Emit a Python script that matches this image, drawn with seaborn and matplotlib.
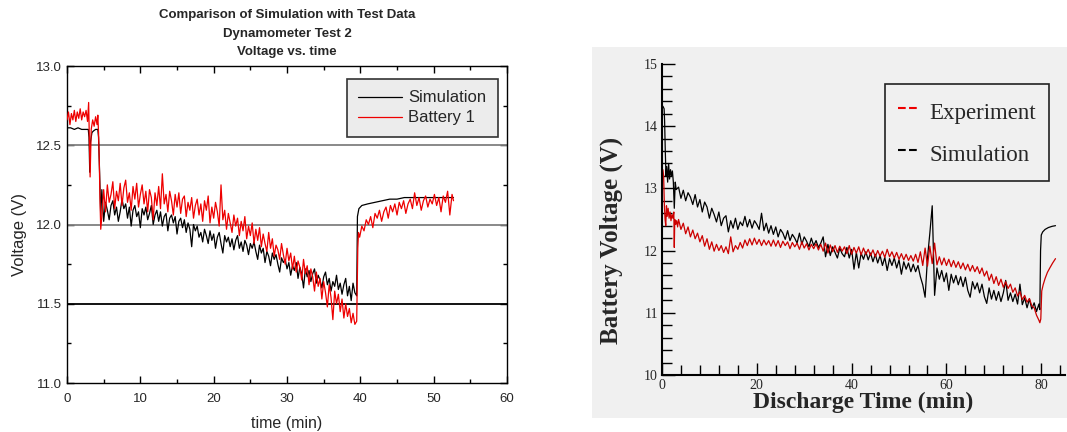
import numpy as np
import pandas as pd
import matplotlib
matplotlib.use("Agg")
import matplotlib.pyplot as plt
import seaborn as sns
from matplotlib.lines import Line2D
from matplotlib.patches import Rectangle
from matplotlib.ticker import MultipleLocator, FormatStrFormatter

# ---- datos panel izquierdo (Dynamometer Test 2) ----
sim_izq_t = [0, 0.5, 1, 1.5, 2, 2.5, 2.9, 3.0, 3.1, 3.2, 3.4, 3.6, 3.9, 4.2, 4.3, 4.45, 4.6,
             4.75, 5.0, 5.25, 5.5, 5.75, 6.0, 6.25, 6.5, 6.75, 7.0, 7.25, 7.5, 7.75, 8.0, 8.25,
             8.5, 8.75, 9.0, 9.25, 9.5, 9.75, 10.0, 10.25, 10.5, 10.75, 11.0, 11.25, 11.5,
             11.75, 12.0, 12.25, 12.5, 12.75, 13.0, 13.25, 13.5, 13.75, 14.0, 14.25, 14.5,
             14.75, 15.0, 15.25, 15.5, 15.75, 16.0, 16.25, 16.5, 16.75, 17.0, 17.25, 17.5,
             17.75, 18.0, 18.25, 18.5, 18.75, 19.0, 19.25, 19.5, 19.75, 20.0, 20.25, 20.5,
             20.75, 21.0, 21.25, 21.5, 21.75, 22.0, 22.25, 22.5, 22.75, 23.0, 23.25, 23.5,
             23.75, 24.0, 24.25, 24.5, 24.75, 25.0, 25.25, 25.5, 25.75, 26.0, 26.25, 26.5,
             26.75, 27.0, 27.25, 27.5, 27.75, 28.0, 28.25, 28.5, 28.75, 29.0, 29.25, 29.5,
             29.75, 30.0, 30.25, 30.5, 30.75, 31.0, 31.25, 31.5, 31.75, 32.0, 32.25, 32.5,
             32.75, 33.0, 33.25, 33.5, 33.75, 34.0, 34.25, 34.5, 34.75, 35.0, 35.25, 35.5,
             35.75, 36.0, 36.25, 36.5, 36.75, 37.0, 37.25, 37.5, 37.75, 38.0, 38.25, 38.5,
             38.75, 39.0, 39.25, 39.5, 39.6, 39.8, 40.2, 41, 42, 43, 44, 45, 46, 47, 48, 50,
             52.7]
sim_izq_v = [12.61, 12.61, 12.60, 12.61, 12.60, 12.60, 12.60, 12.55, 12.33, 12.52, 12.58, 12.59,
             12.60, 12.60, 12.55, 12.32, 12.05,
             12.22, 12.02, 12.14, 12.09,
             12.03, 12.12, 12.15, 12.06, 12.11, 12.02, 12.08, 12.16, 12.10, 12.13, 12.04, 12.11,
             11.99, 12.09, 12.12, 12.05, 12.08, 11.98, 12.10, 12.06, 12.11, 12.03, 12.07, 12.12,
             12.00, 12.06, 12.09, 12.02, 12.08, 11.99, 12.05, 12.07, 11.96, 12.04, 12.06, 12.01,
             12.05, 11.94, 12.02, 12.04, 11.98, 12.03, 11.95, 12.01, 11.97, 11.86, 12.00, 11.96,
             11.99, 11.92, 11.95, 11.89, 11.97, 11.93, 11.88, 11.96, 11.90, 11.94, 11.85, 11.92,
             11.95, 11.88, 11.82, 11.93, 11.89, 11.92, 11.86, 11.91, 11.84, 11.90, 11.93, 11.85,
             11.89, 11.83, 11.90, 11.87, 11.81, 11.88, 11.85, 11.89, 11.83, 11.78, 11.87, 11.82,
             11.85, 11.76, 11.83, 11.80, 11.74, 11.82, 11.78, 11.81, 11.75, 11.70, 11.79, 11.76,
             11.78, 11.72, 11.76, 11.68, 11.74, 11.71, 11.76, 11.66, 11.73, 11.69, 11.60, 11.72,
             11.67, 11.71, 11.64, 11.69, 11.72, 11.63, 11.68, 11.65, 11.60, 11.67, 11.70, 11.62,
             11.66, 11.58, 11.64, 11.61, 11.68, 11.59, 11.63, 11.56, 11.62, 11.66, 11.55, 11.61,
             11.52, 11.63, 11.57,
             11.55, 12.05, 12.10, 12.12, 12.13, 12.14, 12.15, 12.16, 12.16, 12.17, 12.17, 12.17,
             12.17, 12.17]

bat_t = [0, 0.2, 0.4, 0.6, 0.8, 1.0, 1.2, 1.4, 1.6, 1.8, 2.0, 2.2, 2.4, 2.6, 2.8, 2.95, 3.05,
         3.15, 3.3, 3.5, 3.7, 3.9, 4.1, 4.2, 4.3, 4.4, 4.5, 4.6, 4.75,
         5.0, 5.25, 5.5, 5.75, 6.0, 6.25, 6.5, 6.75, 7.0, 7.25, 7.5, 7.75, 8.0, 8.25, 8.5,
         8.75, 9.0, 9.25, 9.5, 9.75, 10.0, 10.25, 10.5, 10.75, 11.0, 11.25, 11.5, 11.75,
         12.0, 12.25, 12.5, 12.75, 13.0, 13.25, 13.5, 13.75, 14.0, 14.25, 14.5, 14.75, 15.0,
         15.25, 15.5, 15.75, 16.0, 16.25, 16.5, 16.75, 17.0, 17.25, 17.5, 17.75, 18.0, 18.25,
         18.5, 18.75, 19.0, 19.25, 19.5, 19.75, 20.0, 20.25, 20.5, 20.75, 21.0, 21.25, 21.5,
         21.75, 22.0, 22.25, 22.5, 22.75, 23.0, 23.25, 23.5, 23.75, 24.0, 24.25, 24.5, 24.75,
         25.0, 25.25, 25.5, 25.75, 26.0, 26.25, 26.5, 26.75, 27.0, 27.25, 27.5, 27.75, 28.0,
         28.25, 28.5, 28.75, 29.0, 29.25, 29.5, 29.75, 30.0, 30.25, 30.5, 30.75, 31.0, 31.25,
         31.5, 31.75, 32.0, 32.25, 32.5, 32.75, 33.0, 33.25, 33.5, 33.75, 34.0, 34.25, 34.5,
         34.75, 35.0, 35.25, 35.5, 35.75, 36.0, 36.25, 36.5, 36.75, 37.0, 37.25, 37.5, 37.75,
         38.0, 38.25, 38.5, 38.75, 39.0, 39.25, 39.5, 39.65, 39.75,
         39.9, 40.2, 40.5, 40.8, 41.1, 41.4, 41.7, 42.0, 42.3, 42.6, 42.9, 43.2, 43.5, 43.8,
         44.1, 44.4, 44.7, 45.0, 45.3, 45.6, 45.9, 46.2, 46.5, 46.8, 47.1, 47.4, 47.7, 48.0,
         48.3, 48.6, 48.9, 49.2, 49.5, 49.8, 50.1, 50.4, 50.7, 51.0, 51.3, 51.6, 51.9, 52.2,
         52.5, 52.7]
bat_v = [12.66, 12.71, 12.63, 12.70, 12.66, 12.72, 12.65, 12.71, 12.67, 12.73, 12.66, 12.71,
         12.68, 12.72, 12.65, 12.77, 12.55, 12.30, 12.60, 12.66, 12.62, 12.68, 12.63, 12.69,
         12.58, 12.40, 12.15, 11.97, 12.05,
         12.22, 12.08, 12.25, 12.14, 12.19, 12.27, 12.10, 12.21, 12.15, 12.26, 12.12, 12.23,
         12.28, 12.14, 12.20, 12.09, 12.24, 12.16, 12.26, 12.11, 12.19, 12.25, 12.13, 12.21,
         12.08, 12.22, 12.17, 12.03, 12.20, 12.12, 12.24, 12.10, 12.32, 12.13, 12.19, 12.08,
         12.21, 12.15, 12.06, 12.19, 12.11, 12.20, 12.07, 12.16, 12.18, 12.05, 12.14, 12.09,
         12.17, 12.04, 12.12, 12.16, 12.06, 12.13, 12.02, 12.15, 12.09, 12.18, 12.01, 12.11,
         12.04, 12.14, 12.08, 11.99, 12.25, 12.03, 12.09, 11.97, 12.07, 12.01, 11.95, 12.06,
         11.99, 12.04, 11.93, 12.02, 11.96, 12.05, 11.91, 11.99, 11.93, 12.01, 11.88, 11.97,
         11.90, 11.98, 11.86, 11.94, 11.88, 11.83, 11.95, 11.85, 11.91, 11.80, 11.87, 11.84,
         11.78, 11.88, 11.81, 11.75, 11.85, 11.77, 11.82, 11.72, 11.80, 11.70, 11.77, 11.73,
         11.65, 11.78, 11.69, 11.74, 11.62, 11.72, 11.67, 11.58, 11.70, 11.61, 11.66, 11.53,
         11.64, 11.57, 11.48, 11.62, 11.54, 11.40, 11.58, 11.50, 11.56, 11.45, 11.53, 11.41,
         11.50, 11.42, 11.47, 11.38, 11.44, 11.37, 11.39, 11.85, 11.95,
         11.92, 11.99, 11.96, 12.03, 12.00, 12.05, 11.98, 12.07, 12.04, 12.09, 12.02, 12.08,
         12.11, 12.04, 12.12, 12.08, 12.13, 12.06, 12.14, 12.10, 12.15, 12.07, 12.13, 12.16,
         12.10, 12.20, 12.12, 12.17, 12.09, 12.15, 12.18, 12.11, 12.16, 12.13, 12.19, 12.12,
         12.17, 12.08, 12.18, 12.14, 12.21, 12.06, 12.19, 12.15]

# ---- datos panel derecho (descarga) ----
sim_der_t = [0, 0.2, 0.45, 0.55, 0.7, 0.85, 1.0, 1.2, 1.4, 1.6, 1.8, 2.0, 2.2, 2.4, 2.6, 2.8, 3.0,
             3.5, 4.0, 4.5, 5.0, 5.5, 6.0, 6.5, 7.0, 7.5, 8.0, 8.5, 9.0, 9.5, 10.0, 10.5, 11.0,
             11.5, 12.0, 12.5, 13.0, 13.5, 14.0, 14.5, 15.0, 15.5, 16.0, 16.5, 17.0, 17.5, 18.0,
             18.5, 19.0, 19.5, 20.0, 20.5, 21.0, 21.5, 22.0, 22.5, 23.0, 23.5, 24.0, 24.5, 25.0,
             25.5, 26.0, 26.5, 27.0, 27.5, 28.0, 28.5, 29.0, 29.5, 30.0, 30.5, 31.0, 31.5, 32.0,
             32.5, 33.0, 33.5, 34.0, 34.5, 35.0, 35.5, 36.0, 36.5, 37.0, 37.5, 38.0, 38.5, 39.0,
             39.5, 40.0, 40.5, 41.0, 41.5, 42.0, 42.5, 43.0, 43.5, 44.0, 44.5, 45.0, 45.5, 46.0,
             46.5, 47.0, 47.5, 48.0, 48.5, 49.0, 49.5, 50.0, 50.5, 51.0, 51.5, 52.0, 52.5, 53.0,
             53.5, 54.0, 54.5, 55.0, 55.5, 56.0, 56.5, 57.0, 57.5, 58.0, 58.5, 59.0, 59.5, 60.0,
             60.5, 61.0, 61.5, 62.0, 62.5, 63.0, 63.5, 64.0, 64.5, 65.0, 65.5, 66.0, 66.5, 67.0,
             67.5, 68.0, 68.5, 69.0, 69.5, 70.0, 70.5, 71.0, 71.5, 72.0, 72.5, 73.0, 73.5, 74.0,
             74.5, 75.0, 75.5, 76.0, 76.5, 77.0, 77.5, 78.0, 78.5, 79.0, 79.5, 79.7, 79.85, 80.0,
             80.3, 80.8, 81.5, 82.3, 83.0]
sim_der_v = [14.30, 14.32, 14.28, 14.10, 13.60, 13.20, 13.35, 13.10, 13.40, 13.15, 13.30, 13.20,
             13.28, 13.10, 12.68, 13.10, 12.98,
             13.02, 12.84, 12.97, 12.80, 12.93, 12.86, 12.74, 12.90, 12.70, 12.82,
             12.62, 12.78, 12.70, 12.52, 12.68, 12.58, 12.46, 12.62, 12.40, 12.52,
             12.56, 12.30, 12.48, 12.36, 12.52, 12.34, 12.46, 12.40, 12.55, 12.38,
             12.50, 12.36, 12.48, 12.42, 12.34, 12.60, 12.32, 12.44, 12.28, 12.40,
             12.26, 12.38, 12.22, 12.34, 12.28, 12.18, 12.32, 12.16, 12.26, 12.20,
             12.12, 12.28, 12.10, 12.22, 12.15, 12.06, 12.20, 12.08, 12.16, 12.05,
             12.12, 12.22, 11.90, 12.10, 11.92, 12.06, 11.97, 11.88, 12.04, 11.95,
             11.90, 12.05, 11.88, 12.02, 11.70, 11.97, 11.72, 11.96, 11.86, 11.98,
             11.85, 11.96, 11.82, 11.94, 11.80, 11.92, 11.76, 11.89, 11.68, 11.87,
             11.76, 11.88, 11.72, 11.85, 11.62, 11.82, 11.70, 11.80, 11.66, 11.78,
             11.66, 11.76, 11.58, 11.45, 11.25, 11.88, 12.28, 12.72, 11.28, 11.72,
             11.54, 11.68, 11.50, 11.64, 11.36, 11.62, 11.48, 11.60, 11.45, 11.58,
             11.42, 11.57, 11.36, 11.25, 11.50, 11.38, 11.48, 11.32, 11.46, 11.26,
             11.15, 11.40, 11.22, 11.36, 11.20, 11.34, 11.18, 11.32, 11.52, 11.20,
             11.32, 11.18, 11.30, 11.14, 11.46, 11.13, 11.24, 11.08, 11.22, 11.06,
             11.16, 11.02, 11.14, 11.05, 12.00, 12.25, 12.30, 12.34, 12.37, 12.39, 12.40]

exp_t = [0, 0.2, 0.35, 0.5, 0.65, 0.8, 0.95, 1.1, 1.3, 1.5, 1.7, 1.9, 2.1, 2.3, 2.5, 2.6, 2.7,
         2.9, 3.1, 3.3,
         3.5, 4.0, 4.5, 5.0, 5.5, 6.0, 6.5, 7.0, 7.5, 8.0, 8.5, 9.0, 9.5, 10.0, 10.5, 11.0,
         11.5, 12.0, 12.5, 13.0, 13.5, 14.0, 14.5, 15.0, 15.5, 16.0, 16.5, 17.0, 17.5, 18.0,
         18.5, 19.0, 19.5, 20.0, 20.5, 21.0, 21.5, 22.0, 22.5, 23.0, 23.5, 24.0, 24.5, 25.0,
         25.5, 26.0, 26.5, 27.0, 27.5, 28.0, 28.5, 29.0, 29.5, 30.0, 30.5, 31.0, 31.5, 32.0,
         32.5, 33.0, 33.5, 34.0, 34.5, 35.0, 35.5, 36.0, 36.5, 37.0, 37.5, 38.0, 38.5, 39.0,
         39.5, 40.0, 40.5, 41.0, 41.5, 42.0, 42.5, 43.0, 43.5, 44.0, 44.5, 45.0, 45.5, 46.0,
         46.5, 47.0, 47.5, 48.0, 48.5, 49.0, 49.5, 50.0, 50.5, 51.0, 51.5, 52.0, 52.5, 53.0,
         53.5, 54.0, 54.5, 55.0, 55.5, 56.0, 56.5, 57.0, 57.5, 58.0, 58.5, 59.0, 59.5, 60.0,
         60.5, 61.0, 61.5, 62.0, 62.5, 63.0, 63.5, 64.0, 64.5, 65.0, 65.5, 66.0, 66.5, 67.0,
         67.5, 68.0, 68.5, 69.0, 69.5, 70.0, 70.5, 71.0, 71.5, 72.0, 72.5, 73.0, 73.5, 74.0,
         74.5, 75.0, 75.5, 76.0, 76.5, 77.0, 77.5, 78.0, 78.5, 79.0, 79.5, 79.7, 79.9, 80.1,
         80.4, 80.8, 81.3, 81.8, 82.4, 83.0]
exp_v = [13.25, 13.30, 13.20, 12.75, 12.50, 12.40, 12.72, 12.55, 12.68, 12.52, 12.62, 12.48,
         12.58, 12.52, 12.62, 12.05, 12.50, 12.42, 12.48, 12.38,
         12.50, 12.34, 12.44, 12.27, 12.38, 12.22, 12.33, 12.19, 12.28, 12.14,
         12.24, 12.07, 12.19, 12.02, 12.14, 11.99, 12.10, 12.00, 12.08, 11.97,
         12.06, 11.95, 12.22, 11.98, 12.08, 12.02, 12.13, 12.04, 12.17, 12.08,
         12.19, 12.09, 12.20, 12.10, 12.18, 12.08, 12.17, 12.09, 12.16, 12.07,
         12.17, 12.07, 12.16, 12.05, 12.15, 12.08, 12.14, 12.03, 12.13, 12.06,
         12.12, 12.02, 12.14, 12.04, 12.11, 12.01, 12.10, 12.03, 12.11, 12.01,
         12.10, 11.99, 12.12, 11.96, 12.09, 11.98, 12.08, 11.97, 12.07, 11.99,
         12.06, 11.95, 12.08, 11.94, 12.05, 11.96, 12.06, 11.93, 12.04, 11.94,
         12.02, 11.92, 12.01, 11.90, 12.00, 11.91, 11.99, 11.89, 12.02, 11.90,
         11.98, 11.88, 11.97, 11.86, 11.95, 11.85, 11.94, 11.84, 11.92, 11.83,
         11.94, 11.81, 11.98, 11.76, 12.04, 11.75, 12.07, 11.79, 12.12, 11.77,
         11.90, 11.77, 11.88, 11.76, 11.86, 11.74, 11.84, 11.73, 11.82, 11.71,
         11.80, 11.69, 11.78, 11.67, 11.76, 11.66, 11.74, 11.63, 11.72, 11.59,
         11.67, 11.52, 11.62, 11.47, 11.58, 11.44, 11.54, 11.41, 11.50, 11.39,
         11.46, 11.33, 11.40, 11.27, 11.34, 11.21, 11.28, 11.17, 11.23, 11.11,
         11.08, 10.96, 10.88, 10.84, 10.90, 11.35, 11.45, 11.55, 11.65, 11.72, 11.80, 11.87]

sns.set_theme(style="ticks")
plt.rcParams['font.family'] = ['Liberation Sans', 'DejaVu Sans']

fig = plt.figure(figsize=(10.67, 4.32), dpi=100)
fig.patch.set_facecolor("white")

# fondo gris del panel derecho
fig.patches.append(Rectangle((592 / 1067, 1 - 418 / 432), 475 / 1067, 371 / 432,
                             transform=fig.transFigure, facecolor="#f0f0f0",
                             edgecolor="none", zorder=-1))

# ---------------- panel izquierdo ----------------
ax1 = fig.add_axes([0.0628, 0.1134, 0.4124, 0.7338])
for yv, c in [(12.5, "#808080"), (12.0, "#808080"), (11.5, "black")]:
    ax1.axhline(yv, color=c, lw=1.3, zorder=1)
sns.lineplot(x=sim_izq_t, y=sim_izq_v, ax=ax1, color="black", lw=0.9,
             estimator=None, sort=False, label="Simulation", zorder=2)
sns.lineplot(x=bat_t, y=bat_v, ax=ax1, color="#ee0000", lw=0.9,
             estimator=None, sort=False, label="Battery 1", zorder=3)
ax1.set_xlim(0, 60)
ax1.set_ylim(11.0, 13.0)
ax1.xaxis.set_major_locator(MultipleLocator(10))
ax1.xaxis.set_minor_locator(MultipleLocator(5))
ax1.yaxis.set_major_locator(MultipleLocator(0.5))
ax1.yaxis.set_minor_locator(MultipleLocator(0.25))
ax1.yaxis.set_major_formatter(FormatStrFormatter('%.1f'))
ax1.tick_params(which="both", direction="in", top=True, right=True, labelsize=9.5,
                color="black", width=1.0)
ax1.tick_params(which="major", length=5)
ax1.tick_params(which="minor", length=3)
ax1.tick_params(axis="x", pad=7)
for s in ax1.spines.values():
    s.set_color("black")
    s.set_linewidth(1.0)
ax1.set_xlabel("time (min)", fontsize=11.5, labelpad=8)
ax1.set_ylabel("Voltage (V)", fontsize=12)
ax1.yaxis.set_label_coords(-0.091, 0.467)
ax1.set_title("Comparison of Simulation with Test Data\nDynamometer Test 2\nVoltage vs. time",
              fontsize=9.5, fontweight="bold", linespacing=1.7, pad=8)
leg1 = ax1.legend(loc="upper right", fontsize=12, frameon=True, fancybox=False,
                  framealpha=1, facecolor="#ececec", edgecolor="#333333",
                  handlelength=2.6, handletextpad=0.4, borderpad=0.7, labelspacing=0.3,
                  borderaxespad=0, bbox_to_anchor=(0.98, 0.96))
leg1.get_frame().set_linewidth(1.2)

# ---------------- panel derecho ----------------
ax2 = fig.add_axes([0.6204, 0.132, 0.3777, 0.72])
ax2.set_facecolor("#f0f0f0")
sns.lineplot(x=sim_der_t, y=sim_der_v, ax=ax2, color="black", lw=0.9,
             estimator=None, sort=False, legend=False)
sns.lineplot(x=exp_t, y=exp_v, ax=ax2, color="#cc0000", lw=0.9,
             estimator=None, sort=False, legend=False)
ax2.set_xlim(0, 85)
ax2.set_ylim(10, 15)
ax2.xaxis.set_major_locator(MultipleLocator(20))
ax2.xaxis.set_minor_locator(MultipleLocator(4))
ax2.yaxis.set_major_locator(MultipleLocator(1))
ax2.yaxis.set_minor_locator(MultipleLocator(0.2))
for s in ["top", "right"]:
    ax2.spines[s].set_visible(False)
for s in ["left", "bottom"]:
    ax2.spines[s].set_color("black")
    ax2.spines[s].set_linewidth(1.5)
serif = ['Liberation Serif', 'DejaVu Serif']
ax2.tick_params(which="both", direction="in", color="black", width=1.0, labelsize=10,
                pad=3)
ax2.tick_params(which="major", length=9)
ax2.tick_params(which="minor", length=7)
for lab in ax2.get_xticklabels() + ax2.get_yticklabels():
    lab.set_family(serif)
ax2.set_xlabel("Discharge Time (min)", fontsize=17, fontweight="bold", family=serif,
               labelpad=0)
ax2.set_ylabel("Battery Voltage (V)", fontsize=18, fontweight="bold", family=serif)
ax2.yaxis.set_label_coords(-0.097, 0.434)
handles = [Line2D([], [], color="#ee0000", lw=1.5, ls="--"),
           Line2D([], [], color="black", lw=1.5, ls="--")]
leg2 = ax2.legend(handles, ["Experiment", "Simulation"], loc="upper right",
                  prop={"family": serif, "size": 16.5}, frameon=True, fancybox=False,
                  framealpha=1, facecolor="#f0f0f0", edgecolor="#222222",
                  handlelength=0.9, handletextpad=0.5, handleheight=1.6,
                  borderpad=0.55, labelspacing=0.55,
                  borderaxespad=0, bbox_to_anchor=(0.96, 0.936))
leg2.get_frame().set_linewidth(1.2)

fig.savefig("out.png", dpi=100)
